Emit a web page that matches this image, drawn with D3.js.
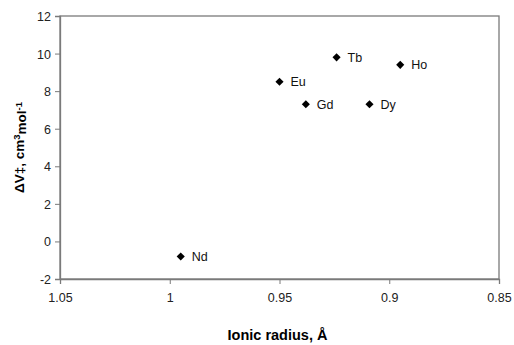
<!DOCTYPE html>
<html>
<head>
<meta charset="utf-8">
<script src="https://cdn.jsdelivr.net/npm/d3@7"></script>
<style>
  html, body { margin: 0; padding: 0; background: #fff; }
  svg { display: block; font-family: "Liberation Sans", Arial, sans-serif; }
</style>
</head>
<body>
<svg id="chart" width="514" height="345"></svg>
<script>
// Activation volume vs. lanthanide ionic radius
const elements = ["Nd", "Eu", "Gd", "Tb", "Dy", "Ho"];
const ionicRadius = [0.995, 0.950, 0.938, 0.924, 0.909, 0.895];
const deltaV = [-0.8, 8.5, 7.3, 9.8, 7.3, 9.4];
const xTicks = [1.05, 1, 0.95, 0.9, 0.85];
const yTicks = [-2, 0, 2, 4, 6, 8, 10, 12];

const svg = d3.select("#chart");
const margin = { left: 60, right: 15, top: 16, bottom: 66 };
const W = 514, H = 345;

const x = d3.scaleLinear().domain([1.05, 0.85]).range([margin.left, W - margin.right]);
const y = d3.scaleLinear().domain([-2, 12]).range([H - margin.bottom, margin.top]);

const axisColor = "#7a7a7a";

// plot frame
svg.append("rect")
  .attr("x", x(1.05)).attr("y", y(12))
  .attr("width", x(0.85) - x(1.05)).attr("height", y(-2) - y(12))
  .attr("fill", "none").attr("stroke", axisColor).attr("stroke-width", 1.3);

const fmt = d => String(d);

const xAxis = svg.append("g")
  .attr("transform", `translate(0,${y(-2)})`)
  .call(d3.axisBottom(x).tickValues(xTicks).tickFormat(fmt).tickSize(5).tickPadding(9));
const yAxis = svg.append("g")
  .attr("transform", `translate(${x(1.05)},0)`)
  .call(d3.axisLeft(y).tickValues(yTicks).tickFormat(fmt).tickSize(5).tickPadding(4));

[xAxis, yAxis].forEach(g => {
  g.select(".domain").attr("stroke", axisColor).attr("stroke-width", 1.3);
  g.selectAll(".tick line").attr("stroke", axisColor).attr("stroke-width", 1);
  g.selectAll(".tick text")
    .attr("fill", "#222")
    .style("font-size", "12.5px")
    .style("font-family", "'Liberation Sans', Arial, sans-serif");
});
yAxis.selectAll(".tick text").attr("dy", "0.36em");

// data points
const pts = svg.append("g");
const diamond = d3.symbol().type(d3.symbolDiamond2).size(42);
elements.forEach((name, i) => {
  const cx = x(ionicRadius[i]), cy = y(deltaV[i]);
  pts.append("path")
    .attr("d", diamond())
    .attr("transform", `translate(${cx},${cy})`)
    .attr("fill", "#000");
  pts.append("text")
    .attr("x", cx + 11).attr("y", cy + 4.5)
    .attr("fill", "#111")
    .style("font-size", "12.5px")
    .text(name);
});

// axis titles
svg.append("text")
  .attr("x", (x(1.05) + x(0.85)) / 2 - 2).attr("y", 340)
  .attr("text-anchor", "middle")
  .style("font-size", "14.5px").style("font-weight", "bold")
  .text("Ionic radius, Å");

const yt = svg.append("text")
  .attr("transform", `translate(24,${(y(12) + y(-2)) / 2}) rotate(-90)`)
  .attr("text-anchor", "middle")
  .style("font-size", "13.5px").style("font-weight", "bold");
yt.append("tspan").text("ΔV‡, cm");
yt.append("tspan").attr("dy", "-0.4em").style("font-size", "9.5px").text("3");
yt.append("tspan").attr("dy", "0.4em").text("mol");
yt.append("tspan").attr("dy", "-0.4em").style("font-size", "9.5px").text("-1");
</script>
</body>
</html>
